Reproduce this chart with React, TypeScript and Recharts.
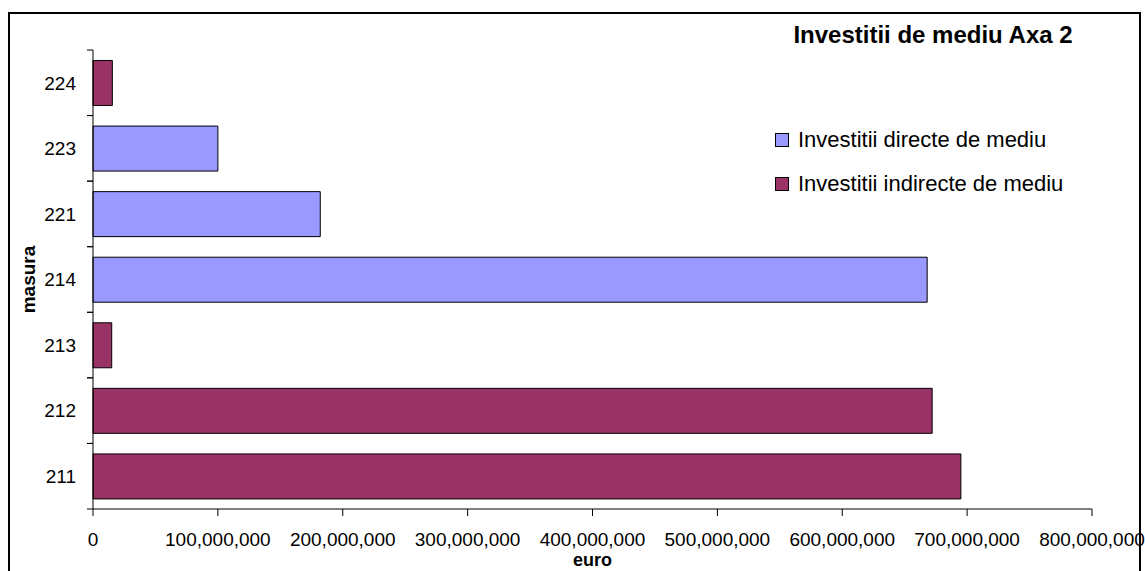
import { BarChart, Bar, XAxis, YAxis, Legend } from 'recharts';

const FONT = "'Liberation Sans', Arial, sans-serif";

const masuri = ['224', '223', '221', '214', '213', '212', '211'];
const directe = [null, 100000000, 182000000, 668000000, null, null, null];
const indirecte = [15500000, null, null, null, 15000000, 672000000, 695000000];
const euroTicks = [0, 100000000, 200000000, 300000000, 400000000, 500000000, 600000000, 700000000, 800000000];

const serii = [
  { key: 'directe', nume: 'Investitii directe de mediu', culoare: '#9999FF' },
  { key: 'indirecte', nume: 'Investitii indirecte de mediu', culoare: '#993366' },
];

const data = masuri.map((m, i) => ({ masura: m, directe: directe[i], indirecte: indirecte[i] }));

function MasuraTick(props: any) {
  const { x, y, payload } = props;
  const axisX = x + 17;
  const half = payload.offset ?? 0;
  return (
    <g>
      <text x={x} y={y} dy="0.355em" textAnchor="end" fontSize={19} fontFamily={FONT} fill="#000">
        {payload.value}
      </text>
      <line x1={axisX - 6} x2={axisX} y1={y - half} y2={y - half} stroke="#000" />
      <line x1={axisX - 6} x2={axisX} y1={y + half} y2={y + half} stroke="#000" />
    </g>
  );
}

function Legenda() {
  return (
    <div style={{ fontFamily: FONT, fontSize: 22, color: '#000' }}>
      {serii.map((s) => (
        <div key={s.key} style={{ height: 44, display: 'flex', alignItems: 'center', whiteSpace: 'nowrap' }}>
          <span
            style={{
              display: 'inline-block',
              width: 12,
              height: 12,
              background: s.culoare,
              border: '1px solid #000',
              marginRight: 9,
            }}
          />
          {s.nume}
        </div>
      ))}
    </div>
  );
}

export default function App() {
  return (
    <div style={{ position: 'fixed', left: 0, top: 0, width: 1145, height: 571, background: '#fff', overflow: 'hidden' }}>
      <div
        style={{
          position: 'absolute',
          left: 8,
          top: 12,
          width: 1133,
          height: 570,
          boxSizing: 'border-box',
          borderTop: '2px solid #000',
          borderLeft: '2px solid #000',
          borderRight: '2px solid #000',
        }}
      />
      <div
        style={{
          position: 'absolute',
          left: 733,
          top: 23,
          width: 400,
          textAlign: 'center',
          fontFamily: FONT,
          fontWeight: 'bold',
          fontSize: 24,
          lineHeight: '24px',
          color: '#000',
        }}
      >
        Investitii de mediu Axa 2
      </div>
      <div style={{ position: 'absolute', left: 0, top: 0 }}>
        <BarChart
          width={1145}
          height={571}
          data={data}
          layout="vertical"
          margin={{ top: 50, right: 53, bottom: 0, left: 0 }}
          barCategoryGap="16%"
        >
          <XAxis
            type="number"
            domain={[0, 800000000]}
            ticks={euroTicks}
            interval={0}
            height={62}
            tickSize={7}
            tickMargin={17}
            stroke="#000"
            tick={{ fill: '#000', fontSize: 19, fontFamily: FONT }}
            tickFormatter={(v: number) => v.toLocaleString('en-US')}
            label={{
              content: (p: any) => (
                <text
                  x={p.viewBox.x + p.viewBox.width / 2}
                  y={p.viewBox.y + 57}
                  textAnchor="middle"
                  fontSize={18}
                  fontWeight="bold"
                  fontFamily={FONT}
                  fill="#000"
                >
                  euro
                </text>
              ),
            }}
          />
          <YAxis
            type="category"
            dataKey="masura"
            width={93}
            tickSize={0}
            tickMargin={17}
            stroke="#000"
            interval={0}
            tick={<MasuraTick />}
            label={{
              content: (p: any) => {
                const cx = 28;
                const cy = p.viewBox.y + p.viewBox.height / 2;
                return (
                  <text
                    x={cx}
                    y={cy}
                    transform={`rotate(-90, ${cx}, ${cy})`}
                    textAnchor="middle"
                    dominantBaseline="central"
                    fontSize={19}
                    fontWeight="bold"
                    fontFamily={FONT}
                    fill="#000"
                  >
                    masura
                  </text>
                );
              },
            }}
          />
          <Legend
            layout="horizontal"
            verticalAlign="middle"
            align="center"
            wrapperStyle={{ position: 'absolute', left: 775, top: 118, width: 'auto' }}
            content={() => <Legenda />}
          />
          {serii.map((s) => (
            <Bar
              key={s.key}
              dataKey={s.key}
              name={s.nume}
              stackId="a"
              fill={s.culoare}
              stroke="#000"
              strokeWidth={1}
              isAnimationActive={false}
            />
          ))}
        </BarChart>
      </div>
    </div>
  );
}
